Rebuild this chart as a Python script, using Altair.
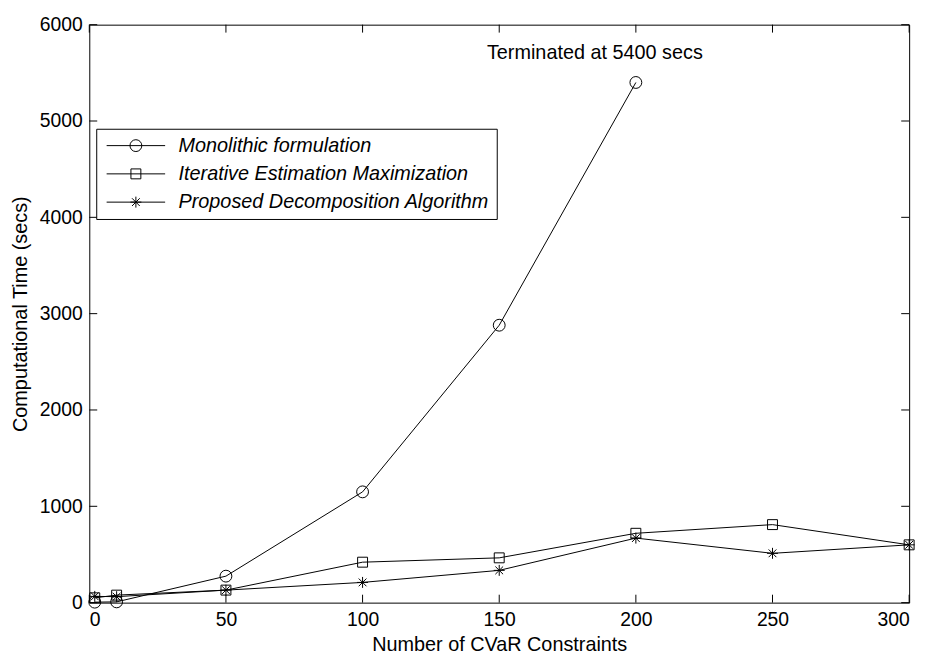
import altair as alt
import pandas as pd

# ---- data ----
series_names = ["Monolithic formulation",
                "Iterative Estimation Maximization",
                "Proposed Decomposition Algorithm"]
x_constraints = [2, 10, 50, 100, 150, 200, 250, 300]
monolithic = [5, 8, 275, 1150, 2880, 5400]          # terminated after 200
iterative = [50, 78, 130, 420, 465, 720, 810, 600]
proposed = [65, 62, 130, 210, 335, 670, 512, 600]

x_ticks = [0, 50, 100, 150, 200, 250, 300]
y_ticks = [0, 1000, 2000, 3000, 4000, 5000, 6000]
note_text = ["Terminated at 5400 secs"]
note_x = [185]
note_y = [5640]

rows = []
for name, vals in zip(series_names, [monolithic, iterative, proposed]):
    for xv, yv in zip(x_constraints, vals):
        rows.append({"series": name, "x": xv, "y": yv})
df = pd.DataFrame(rows)
note_df = pd.DataFrame({"text": note_text, "x": note_x, "y": note_y})
xt_df = pd.DataFrame({"v": x_ticks})
yt_df = pd.DataFrame({"v": y_ticks})

W, H = 827, 583
FONT = "Liberation Sans"

circle_p = "M0.92,0A0.92,0.92,0,1,1,-0.92,0A0.92,0.92,0,1,1,0.92,0Z"
square_p = "M-0.77,-0.77L0.77,-0.77L0.77,0.77L-0.77,0.77Z"
star_p = "M0,-0.85L0,0.85M-0.85,0L0.85,0M-0.6,-0.6L0.6,0.6M-0.6,0.6L0.6,-0.6"
leg_line = "M-4.54,0L4.54,0"

xscale = alt.Scale(domain=[0, 300], nice=False, zero=False)
yscale = alt.Scale(domain=[0, 6000], nice=False)

xenc = alt.X("x:Q", scale=xscale,
             axis=alt.Axis(values=x_ticks, title="Number of CVaR Constraints",
                           format="d",
                           domain=False, ticks=False, grid=False,
                           labelPadding=8.5, titleX=W / 2, titleY=48,
                           titleBaseline="alphabetic", titleAlign="center"))
yenc = alt.Y("y:Q", scale=yscale,
             axis=alt.Axis(values=y_ticks, title="Computational Time (secs)",
                           format="d",
                           domain=False, ticks=False, grid=False,
                           labelPadding=7, titleX=-63, titleY=H / 2,
                           titleAngle=270, titleBaseline="alphabetic",
                           titleAlign="center"))

lines = alt.Chart(df).mark_line(color="black", strokeWidth=1).encode(
    x=xenc, y=yenc, detail="series:N", order="x:Q")

points = alt.Chart(df).mark_point(color="black", filled=False, size=169,
                                  strokeWidth=1, opacity=1).encode(
    x=alt.X("x:Q", scale=xscale), y=alt.Y("y:Q", scale=yscale),
    shape=alt.Shape("series:N",
                    scale=alt.Scale(domain=series_names,
                                    range=[circle_p, square_p, star_p]),
                    legend=None))

legend_layer = alt.Chart(df).transform_filter("false").mark_point(
    color="black", filled=False, size=169, strokeWidth=1, opacity=1).encode(
    x=alt.X("x:Q", scale=xscale), y=alt.Y("y:Q", scale=yscale),
    shape=alt.Shape("series:N",
                    scale=alt.Scale(domain=series_names,
                                    range=[leg_line + circle_p,
                                           leg_line + square_p,
                                           leg_line + star_p]),
                    legend=alt.Legend(title=None, orient="none",
                                      legendX=7, legendY=105,
                                      direction="vertical", columns=1,
                                      symbolSize=169, symbolStrokeWidth=1,
                                      symbolStrokeColor="black",
                                      symbolFillColor="transparent",
                                      symbolOffset=23, labelOffset=33,
                                      labelFont=FONT, labelFontSize=20,
                                      labelFontStyle="italic",
                                      labelColor="black", labelLimit=600,
                                      padding=7, rowPadding=8.5,
                                      strokeColor="black", fillColor="white",
                                      cornerRadius=0)))

note = alt.Chart(note_df).mark_text(font=FONT, fontSize=20, color="black",
                                    align="center", baseline="alphabetic").encode(
    x=alt.X("x:Q", scale=xscale), y=alt.Y("y:Q", scale=yscale), text="text:N")

TL = 8
tick_bottom = alt.Chart(xt_df).mark_rule(color="black", strokeWidth=1).encode(
    x=alt.X("v:Q", scale=xscale), y=alt.value(H), y2=alt.value(H - TL))
tick_top = alt.Chart(xt_df).mark_rule(color="black", strokeWidth=1).encode(
    x=alt.X("v:Q", scale=xscale), y=alt.value(0), y2=alt.value(TL))
tick_left = alt.Chart(yt_df).mark_rule(color="black", strokeWidth=1).encode(
    y=alt.Y("v:Q", scale=yscale), x=alt.value(0), x2=alt.value(TL))
tick_right = alt.Chart(yt_df).mark_rule(color="black", strokeWidth=1).encode(
    y=alt.Y("v:Q", scale=yscale), x=alt.value(W), x2=alt.value(W - TL))

chart = alt.layer(
    lines, tick_bottom, tick_top, tick_left, tick_right, points, note, legend_layer
).resolve_scale(shape="independent").properties(
    width=W, height=H,
    background="white",
    autosize=alt.AutoSizeParams(type="none"),
    padding={"left": 82, "top": 14, "right": 17, "bottom": 50},
).configure_view(stroke="black", strokeWidth=1).configure_axis(
    labelFont=FONT, labelFontSize=19.5, labelColor="black",
    titleFont=FONT, titleFontSize=20, titleColor="black", titleFontWeight="normal",
)

chart.save("out.html", embed_options={"renderer": "svg", "actions": False})
